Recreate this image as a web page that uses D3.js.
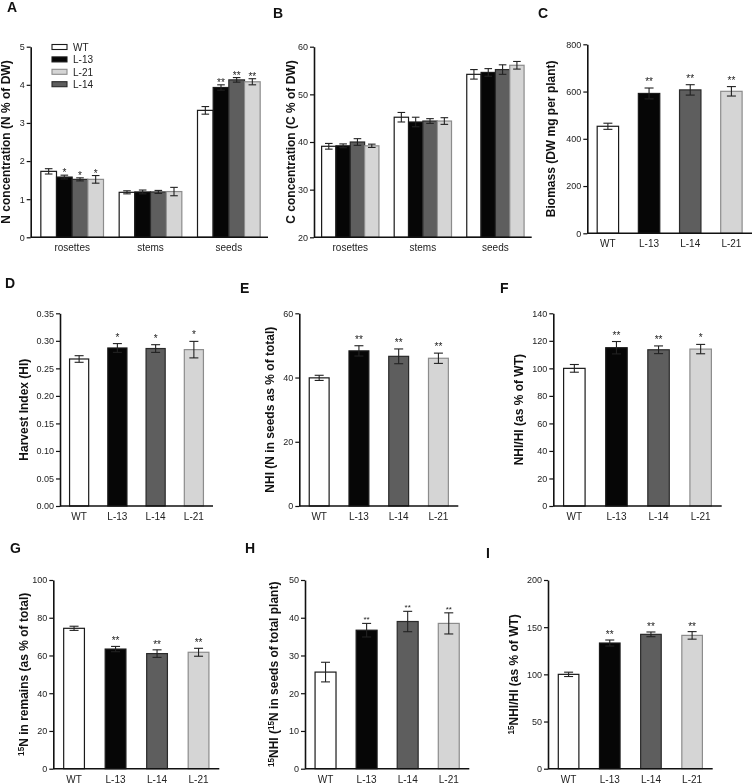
<!DOCTYPE html>
<html><head><meta charset="utf-8">
<script src="https://cdn.jsdelivr.net/npm/d3@7/dist/d3.min.js"></script>
<style>
body{margin:0;background:#fff;}
svg{display:block;font-family:"Liberation Sans",Arial,sans-serif;filter:grayscale(1);}
</style></head><body>
<svg id="fig" width="752" height="784"></svg>
<script>
// ---------- data ----------
const lines = ["WT", "L-13", "L-14", "L-21"];
const legendOrder = ["WT", "L-13", "L-21", "L-14"];
const organs = ["rosettes", "stems", "seeds"];

// Panel A: N concentration (rows = organs, cols = lines)
const nConcMean = [[1.73, 1.58, 1.52, 1.52], [1.18, 1.19, 1.19, 1.20], [3.33, 3.93, 4.13, 4.08]];
const nConcErr  = [[0.07, 0.05, 0.04, 0.10], [0.04, 0.05, 0.04, 0.11], [0.10, 0.07, 0.06, 0.08]];
const nConcSig  = [["", "*", "*", "*"], ["", "", "", ""], ["", "**", "**", "**"]];
const nConcTicks = [0, 1, 2, 3, 4, 5];

// Panel B: C concentration
const cConcMean = [[39.1, 39.2, 40.0, 39.2], [45.2, 44.2, 44.4, 44.4], [54.2, 54.6, 55.2, 56.1]];
const cConcErr  = [[0.6, 0.4, 0.7, 0.35], [1.0, 1.0, 0.5, 0.7], [1.0, 0.8, 1.0, 0.8]];
const cConcSig  = [["", "", "", ""], ["", "", "", ""], ["", "", "", ""]];
const cConcTicks = [20, 30, 40, 50, 60];

// Panel C: biomass
const biomassMean = [453, 592, 607, 601];
const biomassErr  = [13, 23, 22, 20];
const biomassSig  = ["", "**", "**", "**"];
const biomassTicks = [0, 200, 400, 600, 800];

// Panel D: harvest index
const hiMean = [0.267, 0.287, 0.286, 0.284];
const hiErr  = [0.006, 0.008, 0.007, 0.015];
const hiSig  = ["", "*", "*", "*"];
const hiTicks = [0, 0.05, 0.10, 0.15, 0.20, 0.25, 0.30, 0.35];

// Panel E: NHI
const nhiMean = [39.9, 48.3, 46.6, 46.0];
const nhiErr  = [0.8, 1.6, 2.3, 1.6];
const nhiSig  = ["", "**", "**", "**"];
const nhiTicks = [0, 20, 40, 60];

// Panel F: NHI/HI
const nhiHiMean = [100, 115, 113.5, 114];
const nhiHiErr  = [2.8, 4.5, 2.8, 3.4];
const nhiHiSig  = ["", "**", "**", "*"];
const nhiHiTicks = [0, 20, 40, 60, 80, 100, 120, 140];

// Panel G: 15N in remains
const remMean = [74.4, 63.4, 61.0, 61.7];
const remErr  = [1.1, 1.4, 2.0, 2.1];
const remSig  = ["", "**", "**", "**"];
const remTicks = [0, 20, 40, 60, 80, 100];

// Panel H: 15NHI
const n15hiMean = [25.6, 36.7, 39.0, 38.5];
const n15hiErr  = [2.6, 1.8, 2.7, 2.8];
const n15hiSig  = ["", "**", "**", "**"];
const n15hiTicks = [0, 10, 20, 30, 40, 50];

// Panel I: 15NHI/HI
const n15hiHiMean = [100, 133.2, 142.4, 141.3];
const n15hiHiErr  = [2.3, 3.2, 2.5, 4.0];
const n15hiHiSig  = ["", "**", "**", "**"];
const n15hiHiTicks = [0, 50, 100, 150, 200];

// ---------- styles ----------
const fillOf   = {"WT": "#ffffff", "L-13": "#060606", "L-14": "#5e5e5e", "L-21": "#d5d5d5"};
const strokeOf = {"WT": "#1a1a1a", "L-13": "#1a1a1a", "L-14": "#2a2a2a", "L-21": "#8c8c8c"};

const svg = d3.select("#fig");

function label(g, x, y, parts, size) {
  const t = g.append("text")
    .attr("transform", `translate(${x},${y}) rotate(-90)`)
    .attr("text-anchor", "middle")
    .attr("font-weight", "bold")
    .attr("font-size", size)
    .attr("fill", "#111");
  parts.forEach(([s, sup]) => {
    const ts = t.append("tspan").text(s);
    if (sup) ts.attr("font-size", size * 0.68).attr("baseline-shift", "super");
  });
}

function drawPanel(p) {
  const g = svg.append("g");
  const y = d3.scaleLinear().domain(p.domain).range([p.yBottom, p.yTop]);

  const ya = g.append("g").attr("transform", `translate(${p.axisX},0)`)
    .call(d3.axisLeft(y).tickValues(p.ticks).tickSize(4).tickSizeOuter(0).tickPadding(2)
      .tickFormat(p.fmt || d3.format("d")));
  ya.select(".domain").attr("stroke", "#111").attr("stroke-width", 1.6);
  ya.selectAll(".tick line").attr("stroke", "#111").attr("stroke-width", 1.2);
  ya.selectAll(".tick text").attr("font-size", 9).attr("fill", "#222")
    .attr("font-family", "\"Liberation Sans\",Arial,sans-serif");

  const bars = [];
  let cats, xc;
  if (p.grouped) {
    const x0 = d3.scaleBand().domain(organs).range(p.xRange).paddingInner(p.padIn).paddingOuter(p.padOut);
    const x1 = d3.scaleBand().domain(lines).range([0, x0.bandwidth()]);
    organs.forEach((o, i) => lines.forEach((l, j) => {
      bars.push({line: l, x: x0(o) + x1(l), w: x1.bandwidth(), v: p.mean[i][j], e: p.err[i][j], s: p.sig[i][j]});
    }));
    cats = organs; xc = o => x0(o) + x0.bandwidth() / 2;
  } else {
    const x = d3.scaleBand().domain(lines).range(p.xRange).paddingInner(p.padIn).paddingOuter(p.padIn / 2);
    lines.forEach((l, j) => bars.push({line: l, x: x(l), w: x.bandwidth(), v: p.mean[j], e: p.err[j], s: p.sig[j]}));
    cats = lines; xc = l => x(l) + x.bandwidth() / 2;
  }

  g.selectAll("rect.bar").data(bars).join("rect")
    .attr("x", d => d.x).attr("width", d => d.w)
    .attr("y", d => y(d.v)).attr("height", d => y(p.domain[0]) - y(d.v))
    .attr("fill", d => fillOf[d.line]).attr("stroke", d => strokeOf[d.line]).attr("stroke-width", 1.2);

  const cap = p.cap;
  const eb = g.selectAll("g.eb").data(bars).join("g").attr("stroke", "#222").attr("stroke-width", 1.1);
  eb.append("line").attr("x1", d => d.x + d.w / 2).attr("x2", d => d.x + d.w / 2)
    .attr("y1", d => y(d.v - d.e)).attr("y2", d => y(d.v + d.e));
  eb.append("line").attr("x1", d => d.x + d.w / 2 - cap).attr("x2", d => d.x + d.w / 2 + cap)
    .attr("y1", d => y(d.v + d.e)).attr("y2", d => y(d.v + d.e));
  eb.append("line").attr("x1", d => d.x + d.w / 2 - cap).attr("x2", d => d.x + d.w / 2 + cap)
    .attr("y1", d => y(d.v - d.e)).attr("y2", d => y(d.v - d.e));

  g.selectAll("text.sig").data(bars.filter(d => d.s)).join("text")
    .attr("x", d => d.x + d.w / 2).attr("y", d => y(d.v + d.e) + p.sigOff)
    .attr("text-anchor", "middle").attr("font-size", p.sigSize).attr("fill", "#222").text(d => d.s);

  g.append("line").attr("x1", p.axisX).attr("x2", p.xEnd)
    .attr("y1", p.yBottom).attr("y2", p.yBottom).attr("stroke", "#111").attr("stroke-width", 1.6);
  g.selectAll("text.xl").data(cats).join("text")
    .attr("x", d => xc(d)).attr("y", p.yBottom + 14).attr("text-anchor", "middle")
    .attr("font-size", 10).attr("fill", "#222").text(d => d);

  label(g, p.labelX, (p.yTop + p.yBottom) / 2, p.label, 12);

  svg.append("text").attr("x", p.letter[0]).attr("y", p.letter[1]).attr("font-weight", "bold")
    .attr("font-size", 14).attr("fill", "#111").text(p.letter[2]);
  return g;
}

const gA = drawPanel({grouped: true, mean: nConcMean, err: nConcErr, sig: nConcSig, ticks: nConcTicks,
  domain: [0, 5], yTop: 46.7, yBottom: 237.3, axisX: 30.7, xEnd: 268, xRange: [33, 268], padIn: 0.2, padOut: 0.1,
  cap: 3.8, sigOff: 1, sigSize: 10, labelX: 10, letter: [7, 12, "A"],
  label: [["N concentration (N % of  DW)", false]]});

const leg = gA.append("g");
legendOrder.forEach((l, i) => {
  leg.append("rect").attr("x", 52).attr("y", 44.5 + i * 12.4).attr("width", 15).attr("height", 5)
    .attr("fill", fillOf[l]).attr("stroke", strokeOf[l]).attr("stroke-width", 1.1);
  leg.append("text").attr("x", 73).attr("y", 50.8 + i * 12.4).attr("font-size", 10).attr("fill", "#222").text(l);
});

drawPanel({grouped: true, mean: cConcMean, err: cConcErr, sig: cConcSig, ticks: cConcTicks,
  domain: [20, 60], yTop: 46.7, yBottom: 237.3, axisX: 314, xEnd: 531.7, xRange: [314, 531.7], padIn: 0.21, padOut: 0.105,
  cap: 3.8, sigOff: 1, sigSize: 10, labelX: 295, letter: [273, 18, "B"],
  label: [["C concentration (C % of  DW)", false]]});

drawPanel({grouped: false, mean: biomassMean, err: biomassErr, sig: biomassSig, ticks: biomassTicks,
  domain: [0, 800], yTop: 44.3, yBottom: 233.3, axisX: 587.3, xEnd: 752, xRange: [587.3, 752], padIn: 0.48,
  cap: 4.5, sigOff: -3, sigSize: 10, labelX: 555, letter: [538, 18, "C"],
  label: [["Biomass (DW mg per plant)", false]]});

drawPanel({grouped: false, mean: hiMean, err: hiErr, sig: hiSig, ticks: hiTicks, fmt: d3.format(".2f"),
  domain: [0, 0.35], yTop: 313.3, yBottom: 506, axisX: 60, xEnd: 213, xRange: [60, 213], padIn: 0.5,
  cap: 4.5, sigOff: -3, sigSize: 10, labelX: 28, letter: [5, 288, "D"],
  label: [["Harvest Index (HI)", false]]});

drawPanel({grouped: false, mean: nhiMean, err: nhiErr, sig: nhiSig, ticks: nhiTicks,
  domain: [0, 60], yTop: 313.3, yBottom: 506, axisX: 299.3, xEnd: 458.3, xRange: [299.3, 458.3], padIn: 0.5,
  cap: 4.5, sigOff: -3, sigSize: 10, labelX: 274, letter: [240, 293, "E"],
  label: [["NHI (N in seeds as % of total)", false]]});

drawPanel({grouped: false, mean: nhiHiMean, err: nhiHiErr, sig: nhiHiSig, ticks: nhiHiTicks,
  domain: [0, 140], yTop: 313.3, yBottom: 506, axisX: 553.3, xEnd: 721.7, xRange: [553.3, 721.7], padIn: 0.49,
  cap: 4.5, sigOff: -3, sigSize: 10, labelX: 523, letter: [500, 293, "F"],
  label: [["NHI/HI (as % of  WT)", false]]});

drawPanel({grouped: false, mean: remMean, err: remErr, sig: remSig, ticks: remTicks,
  domain: [0, 100], yTop: 580, yBottom: 768.7, axisX: 53.3, xEnd: 219.3, xRange: [53.3, 219.3], padIn: 0.5,
  cap: 4.5, sigOff: -2, sigSize: 10, labelX: 28, letter: [10, 553, "G"],
  label: [["15", true], ["N in remains  (as % of total)", false]]});

drawPanel({grouped: false, mean: n15hiMean, err: n15hiErr, sig: n15hiSig, ticks: n15hiTicks,
  domain: [0, 50], yTop: 580, yBottom: 768.7, axisX: 305, xEnd: 469.3, xRange: [305, 469.3], padIn: 0.49,
  cap: 4.5, sigOff: -1, sigSize: 8, labelX: 278, letter: [245, 553, "H"],
  label: [["15", true], ["NHI (", false], ["15", true], ["N in seeds of total plant)", false]]});

drawPanel({grouped: false, mean: n15hiHiMean, err: n15hiHiErr, sig: n15hiHiSig, ticks: n15hiHiTicks,
  domain: [0, 200], yTop: 580, yBottom: 768.7, axisX: 548, xEnd: 712.7, xRange: [548, 712.7], padIn: 0.5,
  cap: 4.5, sigOff: -2, sigSize: 10, labelX: 518, letter: [486, 558, "I"],
  label: [["15", true], ["NHI/HI (as % of  WT)", false]]});
</script>
</body></html>
